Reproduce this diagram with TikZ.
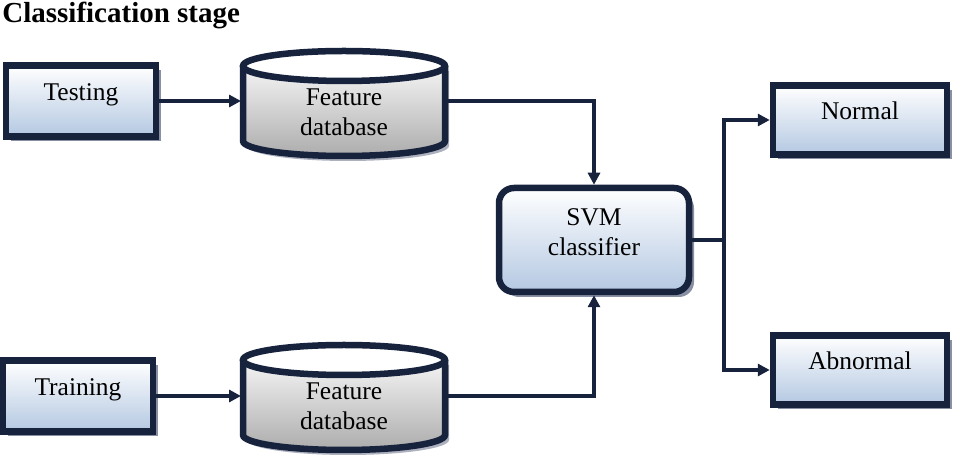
\documentclass[tikz,border=0pt]{standalone}
\usepackage{fontspec}
\setmainfont{Liberation Serif}
\usetikzlibrary{arrows.meta,shadows}
\definecolor{navy}{HTML}{17223D}
\definecolor{boxblue}{HTML}{B4C8E2}
\definecolor{shadowgray}{HTML}{8A90A3}

\begin{document}
\begin{tikzpicture}[x=0.5pt,y=-0.5pt]
\fontsize{12.75}{15}\selectfont
\useasboundingbox (0,0) rectangle (953,458);
\node [anchor=base west,inner sep=0pt,font=\fontsize{14.5}{17}\selectfont\bfseries] (0) at (2,23) {Classification stage};
% the two feature databases
\foreach \y in {112,406} {
    \fill [shadowgray!70] (247,\y-41) -- (247,\y+34) arc [start angle=180,end angle=360,x radius=50.5pt,y radius=7.5pt] -- (449,\y-41) -- cycle;
    \path [draw=navy,line width=3.25pt,top color=gray!8,bottom color=gray!65] (243,\y-46) -- (243,\y+29) arc [start angle=180,end angle=360,x radius=50.5pt,y radius=7.5pt] -- (445,\y-46);
    \draw [navy,line width=3.25pt,fill=white] (344,\y-46) ellipse [x radius=50.5pt,y radius=7.5pt];
}
\begin{scope}[-{Triangle[length=6pt,width=6pt]},line width=2pt,navy,
              block1/.style={rectangle,draw=navy,line width=3.25pt,text=black,
                             top color=white,bottom color=boxblue,
                             drop shadow={shadow xshift=2.5pt,shadow yshift=-2.5pt,fill=shadowgray,opacity=1},
                             text height=6.5pt,text depth=6.5pt},
              block2/.style={rectangle,align=center,text=black,minimum width=101pt,inner sep=0pt}]
    \node [block1,minimum width=75pt,minimum height=35.5pt] (1) at (81,101) {Testing};
    \node [block1,minimum width=75pt,minimum height=35.5pt] (2) at (78,396) {Training};
    \node [block2] (3) at (344,112) {Feature\\database};
    \node [block2] (4) at (344,406) {Feature\\database};
    \node [block1,rounded corners=7.5pt,minimum width=95pt,minimum height=52pt] (5) at (594,240) {};
    \node [block2,minimum width=0pt] (9) at (594,232) {SVM\\classifier};
    \node [block1,minimum width=87pt,minimum height=34.5pt] (6) at (860,120) {Normal};
    \node [block1,minimum width=87pt,minimum height=34.5pt] (7) at (860,370) {Abnormal};
    \coordinate (8) at (724,240);
    \draw (1) -- (1 -| 3.west);
    \draw (2) -- (2 -| 4.west);
    \draw (3.east |- 1) -| (5);
    \draw (4.east |- 2) -| (5);
    \draw [-] (5) -- (8);
    \draw (8) |- (6);
    \draw (8) |- (7);
\end{scope}
\end{tikzpicture}
\end{document}
